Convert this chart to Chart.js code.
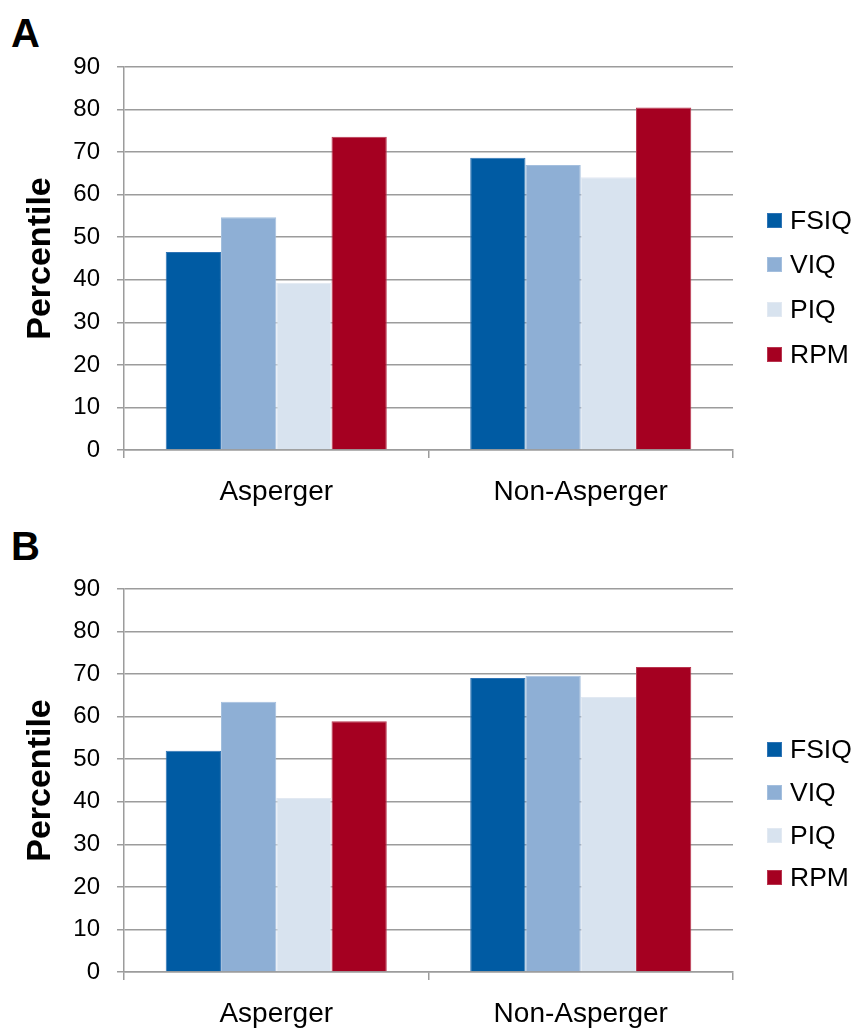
<!DOCTYPE html>
<html>
<head>
<meta charset="utf-8">
<script src="https://cdn.jsdelivr.net/npm/chart.js@4.4.1/dist/chart.umd.min.js"></script>
<style>
  html, body { margin: 0; padding: 0; background: #fff; overflow: hidden; }
  body { width: 857px; height: 1031px; position: relative; font-family: "Liberation Sans", Arial, sans-serif; }
  .panel { position: absolute; left: 0; width: 857px; height: 509px; }
  .panel canvas { position: absolute; left: 0; top: 0; }
  .letter { position: absolute; left: 11px; font-weight: bold; font-size: 40px; line-height: 40px; color: #000; }
  .leg { position: absolute; left: 767px; height: 26px; display: flex; align-items: center; font-size: 26.5px; line-height: 26px; color: #000; }
  .leg .sw { width: 15px; height: 15px; margin-right: 8px; box-sizing: border-box; }
</style>
</head>
<body>
<div class="letter" id="letterA" style="top:13px">A</div>
<div class="letter" id="letterB" style="top:526px">B</div>
<div class="panel" style="top:0px"><canvas id="chartA" width="857" height="509"></canvas></div>
<div class="panel" style="top:522px"><canvas id="chartB" width="857" height="509"></canvas></div>
<div id="legendA"></div>
<div id="legendB"></div>
<script>
// ---- data ----
const categories = ['Asperger', 'Non-Asperger'];
const seriesNames = ['FSIQ', 'VIQ', 'PIQ', 'RPM'];
const yMin = 0;
const yMax = 90;
const yStep = 10;
const yTitle = 'Percentile';

// Panel A
const fsiqA = [46.5, 68.7];
const viqA  = [54.7, 67.0];
const piqA  = [39.3, 64.1];
const rpmA  = [73.6, 80.5];

// Panel B
const fsiqB = [52.0, 69.1];
const viqB  = [63.5, 69.6];
const piqB  = [40.9, 64.6];
const rpmB  = [58.9, 71.7];

// ---- styles ----
const fills   = ['#005BA3', '#8EAFD5', '#D8E3EF', '#A50021'];
const borders = ['#2f74b5', '#a4bfde', '#e2e9f2', '#b8354f'];
const gridColor = '#9c9c9c';
const fontFamily = '"Liberation Sans", Arial, sans-serif';

function makeChart(id, seriesValues) {
  const ctx = document.getElementById(id);
  return new Chart(ctx, {
    type: 'bar',
    data: {
      labels: categories,
      datasets: seriesNames.map((name, i) => ({
        label: name,
        data: seriesValues[i],
        backgroundColor: fills[i],
        borderColor: borders[i],
        borderWidth: 1,
        categoryPercentage: 0.726,
        barPercentage: 1.0
      }))
    },
    options: {
      responsive: false,
      animation: false,
      events: [],
      layout: { padding: { top: 67, right: 124, bottom: 0, left: 0 } },
      plugins: { legend: { display: false }, tooltip: { enabled: false }, title: { display: false } },
      scales: {
        x: {
          afterFit: (s) => { s.height = 59; },
          grid: { display: true, drawOnChartArea: false, drawTicks: true, tickLength: 8, color: gridColor, lineWidth: 1.5, offset: true },
          border: { display: true, color: gridColor, width: 1.5 },
          ticks: { color: '#000', padding: 17, font: { family: fontFamily, size: 28 } }
        },
        y: {
          min: yMin, max: yMax,
          afterFit: (s) => { s.width = 124; },
          ticks: { stepSize: yStep, color: '#000', padding: 17, font: { family: fontFamily, size: 24 } },
          grid: { color: gridColor, lineWidth: 1.5, drawTicks: true, tickLength: 7 },
          border: { display: true, color: gridColor, width: 1.5 },
          title: { display: true, text: yTitle, color: '#000', padding: { top: 20, bottom: 0 }, font: { family: fontFamily, size: 34, weight: 'bold' } }
        }
      }
    }
  });
}

makeChart('chartA', [fsiqA, viqA, piqA, rpmA]);
makeChart('chartB', [fsiqB, viqB, piqB, rpmB]);

function makeLegend(id, centers) {
  const host = document.getElementById(id);
  seriesNames.forEach((name, i) => {
    const row = document.createElement('div');
    row.className = 'leg';
    row.style.top = (centers[i] - 13) + 'px';
    const sw = document.createElement('div');
    sw.className = 'sw';
    sw.style.background = fills[i];
    sw.style.border = '1px solid ' + borders[i];
    const tx = document.createElement('span');
    tx.textContent = name;
    row.appendChild(sw);
    row.appendChild(tx);
    host.appendChild(row);
  });
}
makeLegend('legendA', [220, 264, 309, 354]);
makeLegend('legendB', [749, 792, 835, 877]);
</script>
</body>
</html>
